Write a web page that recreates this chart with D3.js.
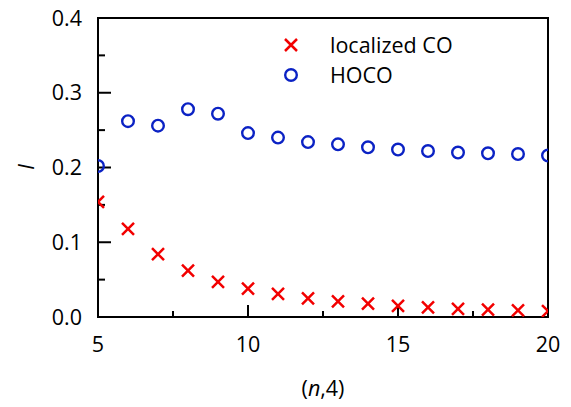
<!DOCTYPE html>
<html>
<head>
<meta charset="utf-8">
<script src="https://cdn.jsdelivr.net/npm/d3@7"></script>
<style>
  body { margin: 0; background: #fff; }
  text { font-family: "Open Sans", "Noto Sans", sans-serif; fill: #000; }
</style>
</head>
<body>
<script>
// chart data
var n_values = [5, 6, 7, 8, 9, 10, 11, 12, 13, 14, 15, 16, 17, 18, 19, 20];
var localized_co = [0.154, 0.118, 0.084, 0.062, 0.047, 0.038, 0.031, 0.025, 0.021, 0.018, 0.015, 0.013, 0.011, 0.010, 0.009, 0.008];
var hoco = [0.202, 0.262, 0.256, 0.278, 0.272, 0.246, 0.240, 0.234, 0.231, 0.227, 0.224, 0.222, 0.220, 0.219, 0.218, 0.216];
var x_major_ticks = [5, 10, 15, 20];
var x_minor_ticks = [7.5, 12.5, 17.5];
var y_major_ticks = [0.0, 0.1, 0.2, 0.3, 0.4];
var y_minor_ticks = [0.05, 0.15, 0.25, 0.35];
var series_labels = ["localized CO", "HOCO"];

var width = 571, height = 407;
var plot_left = 98, plot_top = 18, plot_right = 548, plot_bottom = 317;
var font_size = "21.5px";

var red_color = "#f20000";
var blue_color = "#0b22c4";

var svg = d3.select("body").append("svg")
    .attr("width", width)
    .attr("height", height);

var x_scale = d3.scaleLinear().domain([5, 20]).range([plot_left, plot_right]);
var y_scale = d3.scaleLinear().domain([0, 0.4]).range([plot_bottom, plot_top]);

// frame (drawn first, markers sit on top of it)
svg.append("rect")
    .attr("x", plot_left).attr("y", plot_top)
    .attr("width", plot_right - plot_left).attr("height", plot_bottom - plot_top)
    .attr("fill", "none")
    .attr("stroke", "#000")
    .attr("stroke-width", 2);

// inward ticks, left axis
var y_tick_data = y_major_ticks.map(function (v) { return {v: v, len: 13}; })
    .concat(y_minor_ticks.map(function (v) { return {v: v, len: 7}; }));
svg.selectAll(".y-tick")
    .data(y_tick_data)
    .enter()
    .append("line")
    .attr("class", "y-tick")
    .attr("x1", plot_left)
    .attr("x2", function (d) { return plot_left + d.len; })
    .attr("y1", function (d) { return y_scale(d.v); })
    .attr("y2", function (d) { return y_scale(d.v); })
    .attr("stroke", "#000")
    .attr("stroke-width", 2);

// inward ticks, bottom axis
var x_tick_data = x_major_ticks.map(function (v) { return {v: v, len: 12}; })
    .concat(x_minor_ticks.map(function (v) { return {v: v, len: 6}; }));
svg.selectAll(".x-tick")
    .data(x_tick_data)
    .enter()
    .append("line")
    .attr("class", "x-tick")
    .attr("x1", function (d) { return x_scale(d.v); })
    .attr("x2", function (d) { return x_scale(d.v); })
    .attr("y1", plot_bottom)
    .attr("y2", function (d) { return plot_bottom - d.len; })
    .attr("stroke", "#000")
    .attr("stroke-width", 2);

// clip markers to the plot box
svg.append("clipPath").attr("id", "plot-clip")
    .append("rect")
    .attr("x", plot_left).attr("y", plot_top)
    .attr("width", plot_right - plot_left).attr("height", plot_bottom - plot_top);

var marks = svg.append("g").attr("clip-path", "url(#plot-clip)");

// HOCO circles
marks.selectAll(".hoco-pt")
    .data(hoco)
    .enter()
    .append("circle")
    .attr("class", "hoco-pt")
    .attr("cx", function (d, i) { return x_scale(n_values[i]); })
    .attr("cy", function (d) { return y_scale(d); })
    .attr("r", 5.8)
    .attr("fill", "none")
    .attr("stroke", blue_color)
    .attr("stroke-width", 2.4);

// localized CO crosses
var cross_size = 6;
var cross_path = "M" + (-cross_size) + "," + (-cross_size) + "L" + cross_size + "," + cross_size +
                 "M" + (-cross_size) + "," + cross_size + "L" + cross_size + "," + (-cross_size);

marks.selectAll(".co-pt")
    .data(localized_co)
    .enter()
    .append("path")
    .attr("class", "co-pt")
    .attr("transform", function (d, i) { return "translate(" + x_scale(n_values[i]) + "," + y_scale(d) + ")"; })
    .attr("d", cross_path)
    .attr("fill", "none")
    .attr("stroke", red_color)
    .attr("stroke-width", 2.5);

// y tick labels
svg.selectAll(".y-label")
    .data(y_major_ticks)
    .enter()
    .append("text")
    .attr("class", "y-label")
    .attr("x", plot_left - 16)
    .attr("y", function (d) { return y_scale(d); })
    .attr("dy", "0.36em")
    .attr("text-anchor", "end")
    .style("font-size", font_size)
    .text(d3.format(".1f"));

// x tick labels
svg.selectAll(".x-label")
    .data(x_major_ticks)
    .enter()
    .append("text")
    .attr("class", "x-label")
    .attr("x", function (d) { return x_scale(d); })
    .attr("y", 352)
    .attr("text-anchor", "middle")
    .style("font-size", font_size)
    .text(function (d) { return d; });

// axis titles
var x_title = svg.append("text")
    .attr("x", 323)
    .attr("y", 396)
    .attr("text-anchor", "middle")
    .style("font-size", font_size);
x_title.append("tspan").text("(");
x_title.append("tspan").style("font-style", "italic").text("n");
x_title.append("tspan").text(",4)");

svg.append("text")
    .attr("transform", "translate(26,167) rotate(-90)")
    .attr("dy", "0.36em")
    .attr("text-anchor", "middle")
    .style("font-size", font_size)
    .style("font-style", "italic")
    .text("I");

// legend
var legend_x = 291, legend_y = [45, 75];
var legend = svg.selectAll(".legend-row")
    .data(series_labels)
    .enter()
    .append("g")
    .attr("class", "legend-row")
    .attr("transform", function (d, i) { return "translate(" + legend_x + "," + legend_y[i] + ")"; });

legend.filter(function (d, i) { return i === 0; })
    .append("path")
    .attr("d", cross_path)
    .attr("fill", "none")
    .attr("stroke", red_color)
    .attr("stroke-width", 2.5);

legend.filter(function (d, i) { return i === 1; })
    .append("circle")
    .attr("r", 5.8)
    .attr("fill", "none")
    .attr("stroke", blue_color)
    .attr("stroke-width", 2.4);

legend.append("text")
    .attr("x", 39)
    .attr("dy", "0.36em")
    .style("font-size", font_size)
    .text(function (d) { return d; });
</script>
</body>
</html>
